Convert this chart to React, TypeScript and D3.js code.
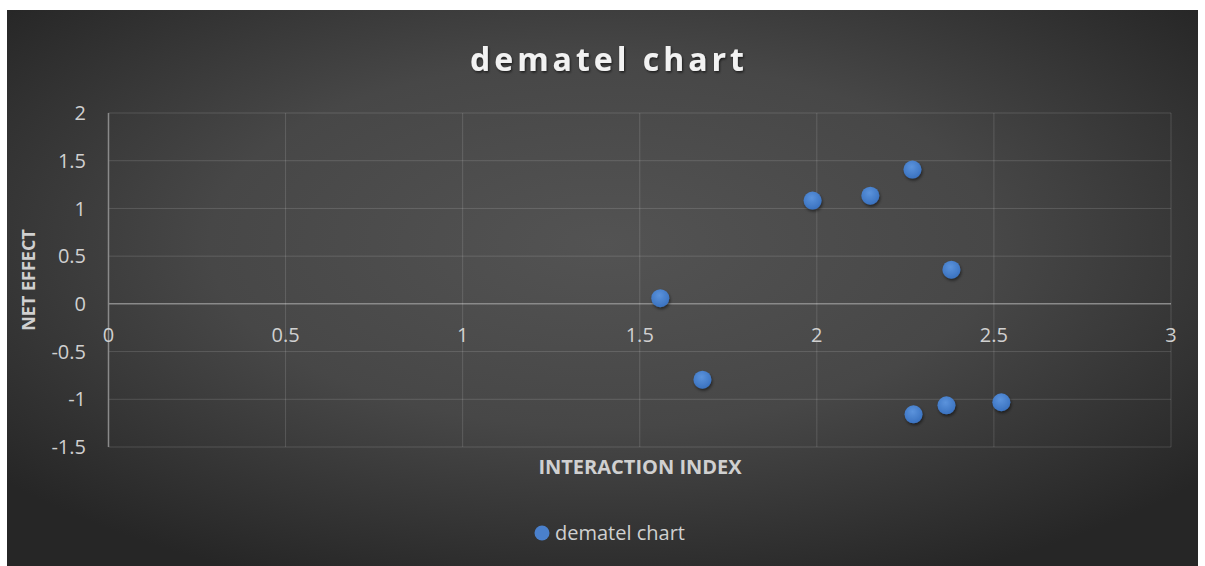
import React from "react";
import * as d3 from "d3";

const interactionIndex = [1.558, 1.677, 1.988, 2.151, 2.270, 2.273, 2.366, 2.380, 2.521];
const netEffect = [0.06, -0.795, 1.082, 1.134, 1.407, -1.157, -1.063, 0.358, -1.031];
const xTicks = [0, 0.5, 1, 1.5, 2, 2.5, 3];
const yTicks = [2, 1.5, 1, 0.5, 0, -0.5, -1, -1.5];
const seriesName = "dematel chart";
const chartTitle = "dematel chart";
const xTitle = "INTERACTION INDEX";
const yTitle = "NET EFFECT";

const W = 1205;
const H = 566;
const FONT = "'Open Sans', 'Noto Sans', sans-serif";

export default function App() {
  const x = d3.scaleLinear().domain([0, 3]).range([108.5, 1171]);
  const y = d3.scaleLinear().domain([-1.5, 2]).range([447, 113]);
  const labelColor = "#d0d0d0";
  const grid = "rgba(255,255,255,0.14)";
  const axisCol = "#8a8a8a";
  const fmt = (v: number) => String(v);

  return (
    <svg width={W} height={H} style={{ position: "absolute", left: 0, top: 0 }}>
      <defs>
        <radialGradient id="bg" cx="50%" cy="42%" r="66%" gradientUnits="objectBoundingBox">
          <stop offset="0%" stopColor="#535353" />
          <stop offset="50%" stopColor="#474747" />
          <stop offset="100%" stopColor="#262626" />
        </radialGradient>
        <radialGradient id="dot" cx="45%" cy="35%" r="65%">
          <stop offset="0%" stopColor="#5b93dc" />
          <stop offset="100%" stopColor="#3a72c0" />
        </radialGradient>
        <filter id="sh" x="-50%" y="-50%" width="200%" height="200%">
          <feDropShadow dx="1" dy="2" stdDeviation="1.5" floodColor="#000" floodOpacity="0.5" />
        </filter>
        <filter id="tsh" x="-10%" y="-30%" width="120%" height="160%">
          <feDropShadow dx="1" dy="1.5" stdDeviation="1" floodColor="#000" floodOpacity="0.6" />
        </filter>
      </defs>
      <rect x={7} y={10} width={1191} height={556} fill="url(#bg)" />

      {yTicks.map((t) => (
        <line key={"gy" + t} x1={x(0)} x2={x(3)} y1={y(t)} y2={y(t)}
          stroke={t === 0 ? axisCol : grid} strokeWidth={t === 0 ? 1.5 : 1} />
      ))}
      {xTicks.map((t) => (
        <line key={"gx" + t} x1={x(t)} x2={x(t)} y1={y(2)} y2={y(-1.5)}
          stroke={t === 0 ? axisCol : grid} strokeWidth={t === 0 ? 1.5 : 1} />
      ))}

      {yTicks.map((t) => (
        <text key={"ly" + t} x={86} y={y(t)} dy="0.36em" textAnchor="end"
          fontFamily={FONT} fontSize={20} fill={labelColor}>{fmt(t)}</text>
      ))}
      {xTicks.map((t) => (
        <text key={"lx" + t} x={x(t)} y={342} textAnchor="middle"
          fontFamily={FONT} fontSize={20} fill={labelColor}>{fmt(t)}</text>
      ))}

      {interactionIndex.map((v, i) => (
        <circle key={"p" + i} cx={x(v)} cy={y(netEffect[i])} r={9}
          fill="url(#dot)" filter="url(#sh)" />
      ))}

      <text x={609} y={71} textAnchor="middle" fontFamily={FONT} fontWeight={700}
        fontSize={32} letterSpacing={4} fill="#f2f2f2" filter="url(#tsh)">{chartTitle}</text>

      <text x={640} y={474} textAnchor="middle" fontFamily={FONT} fontWeight={700}
        fontSize={20} fill={labelColor}>{xTitle}</text>
      <text transform={`translate(35,280) rotate(-90)`} textAnchor="middle" fontFamily={FONT}
        fontWeight={700} fontSize={18} fill={labelColor}>{yTitle}</text>

      <circle cx={542} cy={533} r={7.5} fill="#4a80cc" />
      <text x={555} y={540} fontFamily={FONT} fontSize={20} fill={labelColor}>{seriesName}</text>
    </svg>
  );
}
